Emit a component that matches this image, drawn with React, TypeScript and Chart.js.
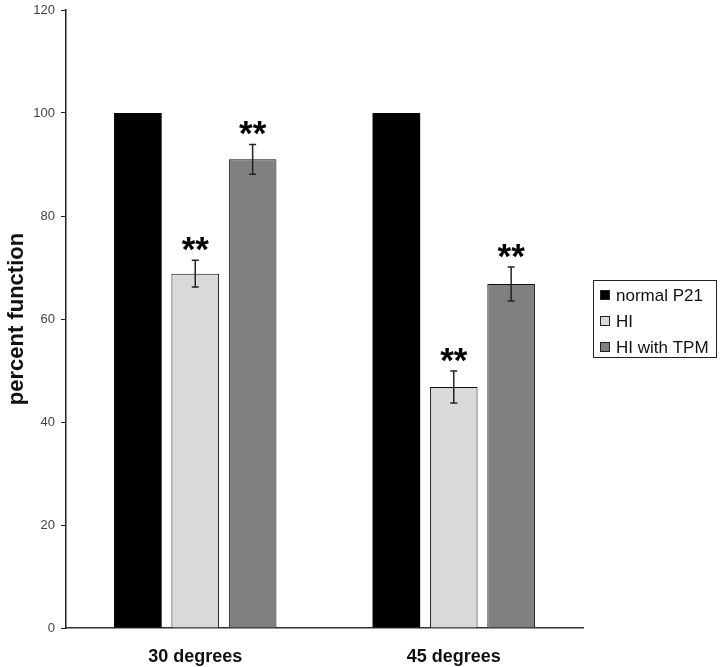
import React, { useEffect, useRef } from "react";
import { Chart, registerables } from "chart.js";

Chart.register(...registerables);

const categories = ["30 degrees", "45 degrees"];
const seriesNames = ["normal P21", "HI", "HI with TPM"];
const normalValues = [100, 100];
const hiValues = [68.8, 46.8];
const tpmValues = [91.0, 66.8];
const hiErrors = [2.6, 3.1];
const tpmErrors = [2.9, 3.3];
const yTicks = [0, 20, 40, 60, 80, 100, 120];
const significance = ["**", "**"];

const colors = ["#000000", "#d9d9d9", "#808080"];

export default function App() {
  const ref = useRef<HTMLCanvasElement | null>(null);

  useEffect(() => {
    document.body.style.margin = "0";
    const canvas = ref.current;
    if (!canvas) return;

    const errorsByDataset: (number[] | null)[] = [null, hiErrors, tpmErrors];
    const starsByDataset: (string[] | null)[] = [null, significance, significance];

    const overlay = {
      id: "overlay",
      afterDatasetsDraw(chart: any) {
        const ctx = chart.ctx;
        const y = chart.scales.y;
        chart.data.datasets.forEach((ds: any, di: number) => {
          const errs = errorsByDataset[di];
          const stars = starsByDataset[di];
          const meta = chart.getDatasetMeta(di);
          meta.data.forEach((el: any, i: number) => {
            const v = ds.data[i];
            const x = el.x;
            let topY = y.getPixelForValue(v);
            if (errs) {
              const e = errs[i];
              const yt = y.getPixelForValue(v + e);
              const yb = y.getPixelForValue(v - e);
              ctx.save();
              ctx.strokeStyle = "#222";
              ctx.lineWidth = 1.5;
              ctx.beginPath();
              ctx.moveTo(x, yt);
              ctx.lineTo(x, yb);
              ctx.moveTo(x - 3.5, yt);
              ctx.lineTo(x + 3.5, yt);
              ctx.moveTo(x - 3.5, yb);
              ctx.lineTo(x + 3.5, yb);
              ctx.stroke();
              ctx.restore();
              topY = yt;
            }
            if (stars) {
              ctx.save();
              ctx.fillStyle = "#000";
              ctx.font = "bold 35px 'Liberation Sans', Arial, sans-serif";
              ctx.textAlign = "center";
              ctx.textBaseline = "alphabetic";
              ctx.fillText(stars[i], x, topY + 1);
              ctx.restore();
            }
          });
        });
      },
      afterDraw(chart: any) {
        const ctx = chart.ctx;
        const bx = 593, by = 280, bw = 123, bh = 77;
        ctx.save();
        ctx.strokeStyle = "#222";
        ctx.lineWidth = 1;
        ctx.strokeRect(bx + 0.5, by + 0.5, bw, bh);
        ctx.font = "17px 'Liberation Sans', Arial, sans-serif";
        ctx.textBaseline = "middle";
        ctx.textAlign = "left";
        seriesNames.forEach((name, i) => {
          const cy = by + 15 + i * 26;
          ctx.fillStyle = colors[i];
          ctx.fillRect(600, cy - 5, 10, 10);
          ctx.strokeStyle = "#222";
          ctx.strokeRect(600.5, cy - 4.5, 9, 9);
          ctx.fillStyle = "#111";
          ctx.fillText(name, 616, cy + 1);
        });
        ctx.restore();
      },
    };

    const chart = new Chart(canvas, {
      type: "bar",
      data: {
        labels: categories,
        datasets: [
          { label: seriesNames[0], data: normalValues, backgroundColor: colors[0], borderColor: "#000", borderWidth: 0 },
          { label: seriesNames[1], data: hiValues, backgroundColor: colors[1], borderColor: "#111", borderWidth: 1 },
          { label: seriesNames[2], data: tpmValues, backgroundColor: colors[2], borderColor: "#111", borderWidth: 1 },
        ],
      },
      options: {
        animation: false,
        responsive: true,
        maintainAspectRatio: false,
        layout: { padding: { left: 0, right: 137, top: 10, bottom: 0 } },
        plugins: { legend: { display: false }, tooltip: { enabled: false } },
        datasets: { bar: { categoryPercentage: 0.666, barPercentage: 0.83 } },
        scales: {
          x: {
            grid: { display: false, drawTicks: false },
            border: { display: true, color: "#333", width: 1.5 },
            ticks: {
              padding: 18,
              color: "#111",
              font: { family: "'Liberation Sans', Arial, sans-serif", size: 18, weight: "bold" },
            },
            afterFit(scale: any) {
              scale.height = 39;
              scale.paddingLeft = 0;
              scale.paddingRight = 0;
            },
          },
          y: {
            min: 0,
            max: 120,
            afterBuildTicks(scale: any) {
              scale.ticks = yTicks.map((v) => ({ value: v }));
            },
            grid: { display: true, drawOnChartArea: false, drawTicks: true, tickLength: 5, color: "#222" },
            border: { display: true, color: "#222", width: 1.5 },
            ticks: {
              padding: 6,
              color: "#444",
              font: { family: "'Liberation Sans', Arial, sans-serif", size: 13 },
            },
            title: {
              display: true,
              text: "percent function",
              color: "#111",
              padding: { top: 4, bottom: 0 },
              font: { family: "'Liberation Sans', Arial, sans-serif", size: 22, weight: "bold" },
            },
            afterFit(scale: any) {
              scale.width = 66;
              scale.paddingTop = 0;
              scale.paddingBottom = 0;
            },
          },
        },
      },
      plugins: [overlay],
    });
    return () => chart.destroy();
  }, []);

  return (
    <div style={{ width: 720, height: 667, position: "relative", background: "#fff" }}>
      <canvas ref={ref} />
    </div>
  );
}
